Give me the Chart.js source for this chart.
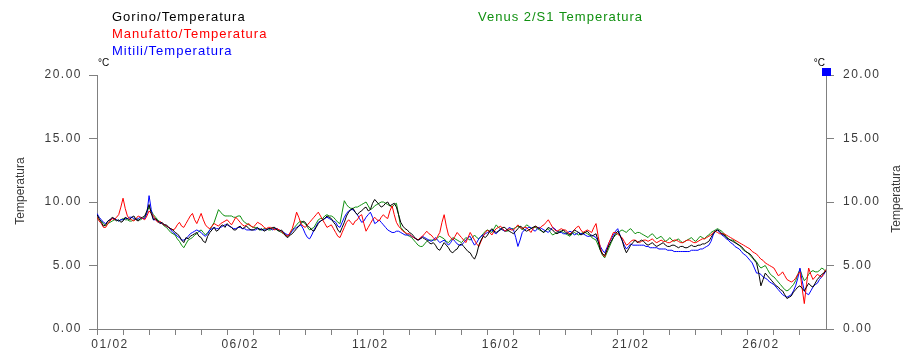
<!DOCTYPE html>
<html>
<head>
<meta charset="utf-8">
<title>Temperatura febbraio</title>
<script src="https://cdn.jsdelivr.net/npm/chart.js@4/dist/chart.umd.min.js"></script>
<style>
  html, body { margin: 0; padding: 0; background: #fff; overflow: hidden; }
  canvas { display: block; }
</style>
</head>
<body>
<canvas id="chart" width="907" height="351"></canvas>
<script>
// Water temperature, 1-28 February, one reading every 2 hours (12 per day).
const SAMPLES_PER_DAY = 12;
const DAYS = 28;

const seriesNames = [
  'Gorino/Temperatura',
  'Manufatto/Temperatura',
  'Mitili/Temperatura',
  'Venus 2/S1 Temperatura'
];
const seriesColors = ['#000000', '#ff0000', '#0000ff', '#109010'];

const gorino = [
  9.0, 8.7, 8.4, 8.1, 8.2, 8.5, 8.6, 8.8, 8.7, 8.5, 8.6, 8.4,
  8.5, 8.8, 8.7, 8.6, 8.8, 8.9, 8.6, 8.5, 8.7, 8.8, 8.9, 9.3,
  9.8, 9.1, 8.6, 8.7, 8.5, 8.3, 8.4, 8.2, 8.2, 8.0, 7.9, 7.8,
  7.6, 7.5, 7.3, 7.0, 6.8, 7.2, 7.1, 7.3, 7.4, 7.5, 7.6, 7.3,
  7.2, 6.9, 6.8, 7.3, 7.6, 7.8, 8.0, 7.7, 7.8, 8.1, 8.2, 8.0,
  8.3, 8.1, 8.0, 7.8, 7.8, 8.0, 8.1, 7.9, 8.0, 8.1, 7.9, 7.8,
  7.8, 7.9, 8.0, 7.8, 7.9, 7.7, 7.8, 7.9, 7.9, 8.0, 8.0, 7.8,
  7.7, 7.8, 7.6, 7.3, 7.2, 7.4, 7.5, 7.7, 7.9, 8.1, 8.3, 8.5,
  8.4, 8.1, 8.0, 7.8, 7.7, 8.0, 8.3, 8.5, 8.6, 8.7, 8.9, 8.8,
  8.7, 8.4, 8.2, 7.8, 7.6, 8.0, 8.4, 8.9, 9.2, 9.4, 9.5, 9.2,
  9.0, 9.2, 9.3, 9.5, 9.6, 9.3, 9.4, 9.9, 10.2, 10.0, 9.8, 9.6,
  9.7, 9.9, 10.0, 9.7, 9.8, 9.9, 9.6, 9.0, 8.4, 8.1, 7.9, 7.8,
  7.6, 7.5, 7.3, 7.1, 7.0, 7.1, 7.2, 7.1, 7.0, 6.8, 6.7, 6.8,
  6.6, 6.3, 6.2, 6.5, 6.8, 6.6, 6.4, 6.1, 6.0, 6.2, 6.3, 6.6,
  6.7, 6.5, 6.3, 6.1, 6.0, 5.7, 5.5, 5.9, 6.6, 7.0, 7.3, 7.2,
  7.4, 7.7, 7.9, 7.7, 7.6, 7.7, 7.8, 8.0, 8.0, 7.8, 7.7, 7.6,
  7.5, 7.7, 7.9, 8.1, 8.0, 7.8, 7.7, 7.8, 7.9, 8.0, 8.1, 8.0,
  7.9, 7.7, 7.6, 7.8, 8.0, 7.9, 7.8, 7.6, 7.5, 7.6, 7.7, 7.8,
  7.6, 7.5, 7.4, 7.6, 7.8, 7.7, 7.6, 7.4, 7.5, 7.6, 7.7, 7.5,
  7.3, 7.4, 7.5, 6.9, 6.2, 5.9, 5.8, 6.2, 6.6, 6.9, 7.2, 7.5,
  7.7, 7.4, 7.0, 6.4, 6.0, 6.3, 6.6, 6.8, 7.0, 6.8, 6.9, 7.0,
  6.9, 6.7, 6.6, 6.7, 6.8, 6.6, 6.5, 6.6, 6.7, 6.8, 6.6, 6.5,
  6.5, 6.6, 6.6, 6.5, 6.4, 6.5, 6.5, 6.4, 6.4, 6.5, 6.6, 6.5,
  6.5, 6.6, 6.6, 6.7, 6.7, 6.8, 6.9, 7.2, 7.5, 7.7, 7.8, 7.7,
  7.5, 7.4, 7.2, 7.1, 7.0, 6.9, 6.8, 6.7, 6.6, 6.5, 6.3, 6.1,
  6.0, 5.9, 5.7, 5.4, 5.2, 4.4, 3.4, 3.9, 4.4, 4.2, 4.0, 3.8,
  3.6, 3.4, 3.3, 3.1, 3.0, 2.7, 2.4, 2.5, 2.6, 2.9, 3.1, 3.3,
  3.4, 3.2, 3.0, 3.3, 3.6, 3.4, 3.3, 3.6, 3.9, 4.1, 4.3, 4.4,
  4.6
];

const manufatto = [
  8.8, 8.5, 8.3, 8.0, 8.0, 8.3, 8.5, 8.7, 8.6, 8.8, 9.0, 9.6,
  10.3, 9.5, 8.9, 8.7, 8.6, 8.5, 8.7, 8.9, 8.8, 8.7, 8.6, 8.9,
  9.3, 9.1, 8.9, 8.6, 8.4, 8.5, 8.3, 8.2, 8.1, 8.0, 7.9, 7.8,
  7.9, 8.2, 8.4, 8.1, 8.0, 8.3, 8.6, 8.9, 9.1, 8.6, 8.3, 8.7,
  9.1, 8.6, 8.2, 8.0, 7.9, 8.1, 8.3, 8.2, 8.1, 8.3, 8.4, 8.5,
  8.6, 8.4, 8.2, 8.5, 8.8, 8.6, 8.4, 8.2, 8.1, 8.2, 8.3, 8.1,
  8.0, 8.2, 8.4, 8.3, 8.2, 8.0, 7.9, 8.0, 8.0, 7.9, 7.8, 7.9,
  7.8, 7.7, 7.5, 7.4, 7.3, 7.6, 7.9, 8.5, 9.2, 8.8, 8.3, 8.1,
  8.0, 8.2, 8.4, 8.6, 8.8, 9.0, 9.2, 8.9, 8.6, 8.3, 8.0, 8.1,
  8.2, 7.9, 7.6, 7.3, 7.2, 7.6, 8.0, 8.4, 8.6, 8.4, 8.2, 8.5,
  8.6, 8.9, 9.0, 8.3, 7.7, 8.0, 8.3, 8.6, 8.8, 8.6, 8.5, 8.8,
  9.0, 8.8, 8.7, 9.3, 9.7, 9.0, 8.4, 8.1, 7.9, 7.7, 7.6, 7.5,
  7.5, 7.3, 7.2, 7.1, 7.0, 7.2, 7.3, 7.5, 7.7, 7.5, 7.4, 7.2,
  7.0, 7.3, 7.6, 8.4, 9.0, 8.1, 7.4, 7.2, 7.0, 7.3, 7.6, 7.4,
  7.2, 7.0, 6.8, 7.2, 7.6, 7.3, 7.0, 6.7, 6.5, 6.9, 7.3, 7.6,
  7.8, 7.6, 7.4, 7.7, 7.9, 8.0, 8.1, 7.9, 7.7, 7.8, 7.9, 7.8,
  7.8, 8.0, 8.2, 8.0, 7.9, 8.0, 8.0, 7.8, 7.6, 7.9, 8.1, 8.0,
  7.9, 8.1, 8.2, 8.4, 8.6, 8.3, 8.0, 7.8, 7.7, 7.8, 7.9, 7.8,
  7.8, 7.6, 7.5, 7.6, 7.8, 8.0, 8.1, 7.8, 7.6, 7.7, 7.8, 7.7,
  7.6, 8.0, 8.3, 7.3, 6.4, 5.9, 5.7, 6.2, 6.8, 7.2, 7.6, 7.6,
  7.5, 7.3, 7.2, 6.9, 6.6, 6.7, 6.9, 7.0, 7.0, 6.9, 6.8, 6.9,
  7.0, 7.0, 6.9, 7.0, 7.1, 6.9, 6.8, 6.9, 7.0, 6.9, 6.9, 6.8,
  6.8, 6.9, 7.0, 7.0, 6.9, 6.8, 6.8, 6.9, 7.0, 7.0, 6.9, 6.8,
  6.8, 6.9, 7.0, 7.1, 7.1, 7.2, 7.3, 7.4, 7.6, 7.7, 7.6, 7.5,
  7.5, 7.5, 7.4, 7.3, 7.2, 7.1, 7.0, 6.9, 6.8, 6.7, 6.6, 6.5,
  6.4, 6.3, 6.1, 6.0, 5.9, 5.7, 5.5, 5.4, 5.2, 5.1, 5.0, 4.9,
  4.8, 4.5, 4.2, 4.3, 4.5, 4.2, 3.9, 3.8, 3.7, 3.8, 4.0, 4.3,
  4.5, 3.2, 2.0, 3.5, 4.8, 4.3, 3.9, 4.1, 4.3, 4.2, 4.1, 4.4,
  4.7
];

const mitili = [
  9.1, 8.8, 8.6, 8.4, 8.3, 8.5, 8.6, 8.7, 8.7, 8.6, 8.5, 8.6,
  8.6, 8.7, 8.7, 8.8, 8.8, 8.7, 8.6, 8.7, 8.8, 8.7, 8.7, 9.1,
  10.5, 9.4, 8.6, 8.6, 8.5, 8.4, 8.3, 8.2, 8.1, 8.0, 7.8, 7.6,
  7.5, 7.3, 7.2, 7.0, 7.0, 7.1, 7.3, 7.5, 7.6, 7.7, 7.8, 7.7,
  7.6, 7.4, 7.3, 7.5, 7.8, 7.9, 8.0, 7.9, 7.9, 8.0, 8.1, 8.2,
  8.2, 8.1, 8.0, 7.9, 7.9, 8.0, 8.0, 7.9, 7.9, 7.8, 7.8, 7.8,
  7.8, 7.8, 7.9, 7.9, 7.8, 7.8, 7.8, 7.9, 7.9, 7.8, 7.9, 7.9,
  7.8, 7.7, 7.6, 7.5, 7.4, 7.5, 7.7, 7.9, 8.0, 8.1, 8.2, 7.9,
  7.5, 7.2, 7.1, 7.4, 7.8, 8.1, 8.4, 8.5, 8.6, 8.7, 8.8, 8.7,
  8.6, 8.5, 8.4, 8.1, 8.0, 8.4, 8.8, 9.1, 9.3, 9.4, 9.4, 9.2,
  9.0, 8.7, 8.4, 8.5, 8.8, 9.0, 9.2, 8.8, 8.3, 8.4, 8.6, 8.4,
  8.2, 8.0, 7.8, 7.7, 7.6, 7.6, 7.7, 7.7, 7.6, 7.5, 7.4, 7.4,
  7.4, 7.3, 7.2, 7.1, 7.0, 7.1, 7.3, 7.2, 7.1, 7.0, 6.9, 7.0,
  7.2, 7.0, 6.8, 6.9, 7.0, 6.8, 6.6, 6.8, 7.1, 6.9, 6.7, 6.6,
  6.6, 6.8, 7.0, 7.2, 7.3, 6.9, 6.6, 6.8, 7.1, 7.3, 7.4, 7.5,
  7.6, 7.7, 7.8, 7.6, 7.5, 7.7, 7.9, 7.8, 7.7, 7.8, 8.0, 7.9,
  7.8, 7.2, 6.5, 7.0, 7.6, 7.8, 7.9, 8.0, 8.0, 7.8, 7.7, 7.9,
  8.0, 7.9, 7.8, 7.7, 7.6, 7.8, 8.0, 7.9, 7.7, 7.6, 7.6, 7.5,
  7.5, 7.6, 7.7, 7.6, 7.4, 7.5, 7.6, 7.5, 7.5, 7.4, 7.3, 7.3,
  7.4, 7.3, 7.2, 6.9, 6.5, 6.2, 6.0, 6.4, 6.8, 7.1, 7.4, 7.7,
  7.9, 7.4, 7.0, 6.6, 6.3, 6.5, 6.7, 6.6, 6.6, 6.6, 6.6, 6.6,
  6.6, 6.5, 6.5, 6.4, 6.4, 6.4, 6.4, 6.3, 6.3, 6.3, 6.3, 6.2,
  6.2, 6.2, 6.1, 6.1, 6.1, 6.1, 6.1, 6.1, 6.1, 6.1, 6.2, 6.2,
  6.2, 6.2, 6.3, 6.3, 6.4, 6.5, 6.6, 6.9, 7.4, 7.7, 7.8, 7.6,
  7.4, 7.3, 7.1, 7.0, 6.8, 6.7, 6.5, 6.4, 6.3, 6.1, 5.9, 5.8,
  5.6, 5.4, 5.2, 4.8, 4.4, 4.4, 4.3, 4.1, 4.0, 3.9, 3.7, 3.6,
  3.5, 3.3, 3.1, 2.9, 2.7, 2.6, 2.5, 2.6, 2.7, 3.0, 3.4, 4.0,
  4.8, 3.8, 3.0, 2.8, 2.7, 3.0, 3.3, 3.5, 3.6, 3.9, 4.1, 4.3,
  4.6
];

const venus = [
  8.8, 8.6, 8.5, 8.3, 8.1, 8.3, 8.4, 8.5, 8.6, 8.6, 8.5, 8.6,
  8.7, 8.6, 8.6, 8.5, 8.5, 8.6, 8.7, 8.6, 8.6, 8.7, 8.8, 9.2,
  9.6, 9.3, 9.0, 8.8, 8.6, 8.4, 8.3, 8.1, 8.0, 7.8, 7.6, 7.5,
  7.4, 7.1, 6.9, 6.6, 6.4, 6.7, 7.0, 7.1, 7.2, 7.4, 7.5, 7.7,
  7.8, 7.6, 7.4, 7.6, 7.8, 8.1, 8.4, 8.9, 9.4, 9.2, 9.0, 8.9,
  8.9, 8.9, 8.9, 8.8, 8.8, 8.9, 8.9, 8.6, 8.4, 8.3, 8.2, 8.1,
  8.0, 8.0, 7.9, 7.8, 7.8, 7.9, 7.9, 7.8, 7.8, 7.9, 7.9, 7.8,
  7.7, 7.6, 7.5, 7.4, 7.3, 7.5, 7.8, 8.0, 8.2, 8.4, 8.5, 8.4,
  8.3, 8.0, 7.8, 7.9, 8.0, 8.3, 8.6, 8.7, 8.7, 8.9, 9.0, 8.9,
  8.9, 8.8, 8.6, 8.4, 8.3, 9.2, 10.1, 9.8, 9.6, 9.5, 9.5, 9.6,
  9.6, 9.7, 9.8, 9.9, 10.0, 9.7, 9.4, 9.5, 9.7, 9.8, 9.9, 10.0,
  10.0, 9.9, 9.8, 9.7, 9.6, 9.8, 9.9, 9.0, 8.0, 7.8, 7.6, 7.4,
  7.3, 7.2, 7.0, 6.8, 6.6, 6.5, 6.5, 6.7, 6.9, 7.0, 7.0, 7.0,
  7.0, 7.2, 7.3, 7.2, 7.1, 6.9, 6.8, 7.0, 7.2, 7.1, 7.0, 6.9,
  6.8, 7.0, 7.2, 7.1, 7.0, 7.2, 7.4, 7.2, 7.1, 7.3, 7.5, 7.7,
  7.8, 7.7, 7.6, 7.9, 8.2, 8.0, 7.9, 7.8, 7.7, 7.7, 7.8, 7.9,
  7.9, 8.0, 8.1, 8.0, 7.8, 8.0, 8.2, 8.1, 7.9, 8.0, 8.0, 7.9,
  7.8, 7.7, 7.6, 7.8, 7.9, 7.6, 7.4, 7.5, 7.6, 7.7, 7.7, 7.6,
  7.5, 7.4, 7.3, 7.5, 7.6, 7.5, 7.4, 7.5, 7.6, 7.6, 7.5, 7.4,
  7.2, 7.1, 7.0, 6.6, 6.2, 5.8, 5.6, 6.0, 6.4, 6.8, 7.2, 7.4,
  7.5, 7.7, 7.8, 7.7, 7.6, 7.8, 7.9, 7.7, 7.5, 7.6, 7.6, 7.5,
  7.4, 7.3, 7.2, 7.4, 7.5, 7.3, 7.1, 7.2, 7.3, 7.1, 6.9, 7.0,
  7.2, 7.0, 6.9, 7.0, 7.1, 6.9, 6.8, 6.9, 7.0, 7.1, 7.2, 7.0,
  6.9, 7.1, 7.3, 7.2, 7.1, 7.3, 7.4, 7.6, 7.7, 7.8, 7.9, 7.8,
  7.7, 7.5, 7.3, 7.1, 7.0, 7.0, 6.9, 6.7, 6.6, 6.4, 6.2, 6.1,
  6.0, 5.8, 5.6, 5.5, 5.3, 5.0, 4.8, 4.9, 5.0, 4.7, 4.4, 4.2,
  4.1, 3.9, 3.7, 3.5, 3.3, 3.1, 3.0, 3.1, 3.3, 3.5, 3.8, 4.3,
  4.7, 4.2, 3.8, 4.0, 4.3, 4.5, 4.6, 4.5, 4.5, 4.6, 4.8, 4.7,
  4.5
];

// Date labels on the time axis (day offset from 1 February -> label)
const tickDays = [0, 5, 10, 15, 20, 25];
const tickLabels = ['01/02', '06/02', '11/02', '16/02', '21/02', '26/02'];

// Temperature axis (°C)
const yMin = 0, yMax = 20, yStep = 5;

const allSeries = [gorino, manufatto, mitili, venus];

const toPoints = arr => arr.map((v, i) => ({ x: i / SAMPLES_PER_DAY, y: v }));

const AXIS_GREY = '#808080';
const TEXT_GREY = '#3a3a3a';
const FONT = '"Liberation Sans", Arial, sans-serif';

const decorations = {
  id: 'decorations',
  beforeLayout(chart) {
    chart.ctx.letterSpacing = '1.5px';
  },
  beforeDraw(chart) {
    const ctx = chart.ctx;
    ctx.save();
    ctx.fillStyle = '#ffffff';
    ctx.fillRect(0, 0, chart.width, chart.height);
    ctx.restore();
    ctx.letterSpacing = '1.5px';
  },
  afterDraw(chart) {
    const ctx = chart.ctx;
    const { left, right, top } = chart.chartArea;
    ctx.save();

    // series names
    ctx.letterSpacing = '1px';
    ctx.font = '13px ' + FONT;
    ctx.textAlign = 'left';
    ctx.textBaseline = 'alphabetic';
    const legendPos = [[112, 21], [112, 38], [112, 55], [478, 21]];
    chart.data.datasets.forEach((ds, i) => {
      ctx.fillStyle = ds.borderColor;
      ctx.fillText(ds.label, legendPos[i][0], legendPos[i][1]);
    });

    // unit labels above both temperature axes
    ctx.letterSpacing = '0px';
    ctx.fillStyle = '#000000';
    ctx.font = '10px ' + FONT;
    ctx.textAlign = 'left';
    ctx.fillText('°C', left + 1, top - 9);
    ctx.textAlign = 'right';
    ctx.fillText('°C', right - 1, top - 9);

    // marker at the top of the right axis
    ctx.fillStyle = '#0000ff';
    ctx.fillRect(right - 4, top - 7, 9, 8);

    // axis titles
    ctx.fillStyle = TEXT_GREY;
    ctx.font = '12px ' + FONT;
    ctx.textAlign = 'center';
    ctx.textBaseline = 'middle';
    [[21, 191], [897, 199]].forEach(([x, y]) => {
      ctx.save();
      ctx.translate(x, y);
      ctx.rotate(-Math.PI / 2);
      ctx.fillText('Temperatura', 0, 0);
      ctx.restore();
    });

    ctx.restore();
  }
};

const yAxis = (position, width, padding) => ({
  type: 'linear',
  position,
  min: yMin,
  max: yMax,
  afterFit: s => { s.width = width; },
  grid: { drawOnChartArea: false, drawTicks: true, tickLength: 8, color: AXIS_GREY },
  border: { color: AXIS_GREY, width: 1 },
  ticks: {
    stepSize: yStep,
    padding,
    color: TEXT_GREY,
    font: { family: FONT, size: 12 },
    callback: v => v.toFixed(2)
  }
});

new Chart(document.getElementById('chart'), {
  type: 'line',
  data: {
    datasets: allSeries.map((arr, i) => ({
      label: seriesNames[i],
      data: toPoints(arr),
      borderColor: seriesColors[i],
      backgroundColor: seriesColors[i],
      borderWidth: 1,
      pointRadius: 0,
      tension: 0,
      fill: false,
      yAxisID: 'y'
    }))
  },
  options: {
    responsive: false,
    animation: false,
    devicePixelRatio: 1,
    layout: { padding: { top: 75, left: 0, right: 0, bottom: 0 } },
    plugins: {
      legend: { display: false },
      tooltip: { enabled: false },
      title: { display: false }
    },
    scales: {
      x: {
        type: 'linear',
        position: 'bottom',
        min: 0,
        max: DAYS,
        afterFit: s => { s.height = 22; },
        afterBuildTicks: s => { s.ticks = s.ticks.filter(t => t.value < DAYS); },
        grid: { drawOnChartArea: false, drawTicks: true, tickLength: 6, color: AXIS_GREY },
        border: { color: AXIS_GREY, width: 1 },
        ticks: {
          stepSize: 1,
          autoSkip: false,
          maxRotation: 0,
          padding: 2,
          labelOffset: 13,
          color: TEXT_GREY,
          font: { family: FONT, size: 12 },
          callback: v => {
            const k = tickDays.indexOf(v);
            return k >= 0 ? tickLabels[k] : '';
          }
        }
      },
      y: yAxis('left', 97, 7),
      y2: yAxis('right', 81, 9)
    }
  },
  plugins: [decorations]
});
</script>
</body>
</html>
